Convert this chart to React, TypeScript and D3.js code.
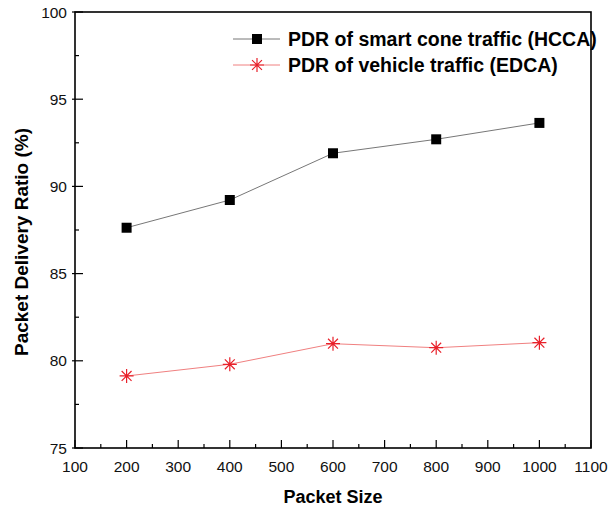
import React from "react";
import * as d3 from "d3";

// packet sizes on the x axis
const packetSizes = [200, 400, 600, 800, 1000];
// PDR (%)
const hccaPdr = [87.63, 89.22, 91.9, 92.7, 93.64];
const edcaPdr = [79.13, 79.8, 80.98, 80.75, 81.04];

const xMajor = [100, 200, 300, 400, 500, 600, 700, 800, 900, 1000, 1100];
const xMinor = [150, 250, 350, 450, 550, 650, 750, 850, 950, 1050];
const yMajor = [75, 80, 85, 90, 95, 100];
const yMinor = [77.5, 82.5, 87.5, 92.5, 97.5];

const legendNames = ["PDR of smart cone traffic (HCCA)", "PDR of vehicle traffic (EDCA)"];

const W = 608;
const H = 514;
const left = 75;
const right = 591;
const top = 12;
const bottom = 448;

const font = "Arial, 'Liberation Sans', sans-serif";

function Star({ cx, cy, r, color }: { cx: number; cy: number; r: number; color: string }) {
  const d = d3.range(4).map(i => {
    const a = (i * Math.PI) / 4;
    const dx = Math.cos(a) * r;
    const dy = Math.sin(a) * r;
    return `M${cx - dx},${cy - dy}L${cx + dx},${cy + dy}`;
  }).join("");
  return <path d={d} stroke={color} strokeWidth={1.2} fill="none" />;
}

export default function App() {
  const x = d3.scaleLinear().domain([100, 1100]).range([left, right]);
  const y = d3.scaleLinear().domain([75, 100]).range([bottom, top]);

  const line = d3.line<[number, number]>().x(d => x(d[0])).y(d => y(d[1]));
  const hccaPts = packetSizes.map((p, i) => [p, hccaPdr[i]] as [number, number]);
  const edcaPts = packetSizes.map((p, i) => [p, edcaPdr[i]] as [number, number]);

  return (
    <svg width={W} height={H} style={{ position: "absolute", left: 0, top: 0, background: "#fff" }}>
      <rect x={0} y={0} width={W} height={H} fill="#fff" />

      {/* frame */}
      <rect x={left} y={top} width={right - left} height={bottom - top} fill="none" stroke="#000" strokeWidth={1.6} />

      {/* x ticks */}
      {xMajor.map(v => (
        <line key={"xm" + v} x1={x(v)} x2={x(v)} y1={bottom} y2={bottom - 8} stroke="#000" strokeWidth={1.2} />
      ))}
      {xMinor.map(v => (
        <line key={"xn" + v} x1={x(v)} x2={x(v)} y1={bottom} y2={bottom - 4} stroke="#000" strokeWidth={1.2} />
      ))}
      {xMajor.map(v => (
        <text key={"xl" + v} x={x(v)} y={472} textAnchor="middle" fontFamily={font} fontSize={15.5} fill="#111">
          {v}
        </text>
      ))}

      {/* y ticks */}
      {yMajor.map(v => (
        <line key={"ym" + v} x1={left - 3} x2={left + 8} y1={y(v)} y2={y(v)} stroke="#000" strokeWidth={1.2} />
      ))}
      {yMinor.map(v => (
        <line key={"yn" + v} x1={left} x2={left + 4} y1={y(v)} y2={y(v)} stroke="#000" strokeWidth={1.2} />
      ))}
      {yMajor.map(v => (
        <text key={"yl" + v} x={67} y={y(v) + 5.5} textAnchor="end" fontFamily={font} fontSize={15.5} fill="#111">
          {v}
        </text>
      ))}

      {/* axis titles */}
      <text x={(left + right) / 2} y={503} textAnchor="middle" fontFamily={font} fontWeight="bold" fontSize={18} fill="#000">
        Packet Size
      </text>
      <text
        transform={`translate(28,242) rotate(-90)`}
        textAnchor="middle"
        fontFamily={font}
        fontWeight="bold"
        fontSize={19}
        fill="#000"
      >
        Packet Delivery Ratio (%)
      </text>

      {/* series */}
      <path d={line(hccaPts) || ""} fill="none" stroke="#777" strokeWidth={1} />
      <path d={line(edcaPts) || ""} fill="none" stroke="#f08080" strokeWidth={1} />
      {hccaPts.map((p, i) => (
        <rect key={"h" + i} x={x(p[0]) - 5} y={y(p[1]) - 5} width={10} height={10} fill="#000" />
      ))}
      {edcaPts.map((p, i) => (
        <Star key={"e" + i} cx={x(p[0])} cy={y(p[1])} r={7} color="#e8202a" />
      ))}

      {/* legend */}
      <line x1={233} x2={280} y1={39} y2={39} stroke="#777" strokeWidth={1} />
      <rect x={252} y={34} width={10} height={10} fill="#000" />
      <text x={288} y={46} fontFamily={font} fontWeight="bold" fontSize={19.5} fill="#000">
        {legendNames[0]}
      </text>
      <line x1={233} x2={280} y1={65} y2={65} stroke="#f08080" strokeWidth={1} />
      <Star cx={257} cy={65} r={7} color="#e8202a" />
      <text x={288} y={72} fontFamily={font} fontWeight="bold" fontSize={19.5} fill="#000">
        {legendNames[1]}
      </text>
    </svg>
  );
}
